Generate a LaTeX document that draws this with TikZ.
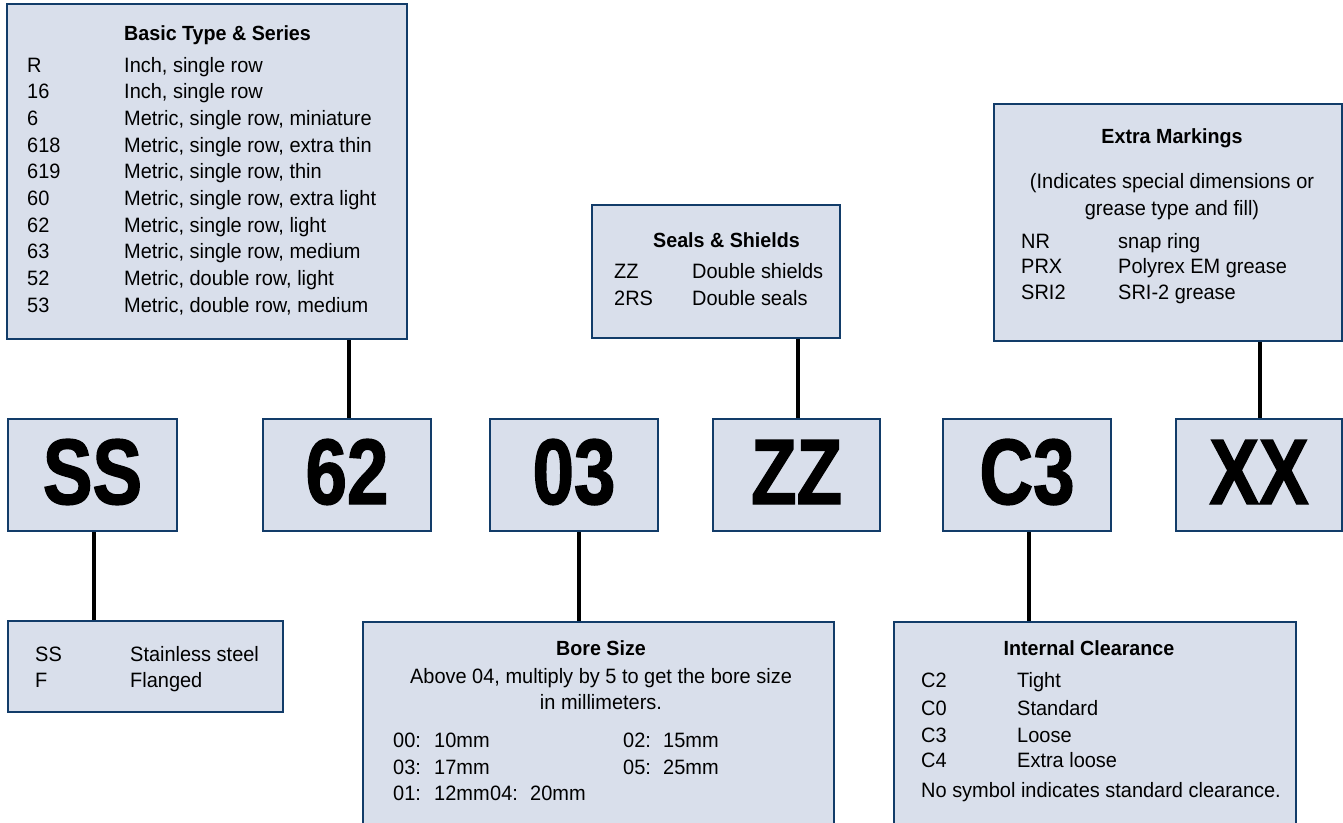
\documentclass[tikz,border=0pt]{standalone}
\usepackage{fontspec}
\setmainfont[FakeStretch=0.96]{Liberation Sans}
\newfontfamily\bigfont[FakeStretch=0.8,FakeBold=1.5]{Liberation Sans}
\definecolor{boxfill}{RGB}{217,223,235}
\definecolor{boxline}{RGB}{18,60,105}
\begin{document}
\begin{tikzpicture}[x=1pt,y=-1pt,
  box/.style={draw=boxline,fill=boxfill,line width=2.5pt,rectangle,inner sep=0pt,minimum height=#1},
  code/.style={draw=boxline,fill=boxfill,line width=2.5pt,rectangle,inner sep=0pt,minimum height=112pt},
  txt/.style={anchor=base west,inner sep=0pt,font=\fontsize{20.8}{24}\selectfont},
  ctxt/.style={anchor=base,inner sep=0pt,font=\fontsize{20.8}{24}\selectfont},
  ttl/.style={anchor=base west,inner sep=0pt,font=\fontsize{20.5}{24}\selectfont\bfseries},
  cttl/.style={anchor=base,inner sep=0pt,font=\fontsize{20.5}{24}\selectfont\bfseries},
  big/.style={anchor=base,inner sep=0pt,font=\bigfont\bfseries\fontsize{93}{100}\selectfont},
  conn/.style={line width=4pt,black}]
\useasboundingbox (0,0) rectangle (1343,822);
\clip (0,0) rectangle (1343,822);

% boxes
\node[box=335pt,minimum width=400pt] (basic) at (207,171.5) {};
\node[box=133pt,minimum width=248pt] (seals) at (716,271.5) {};
\node[box=237pt,minimum width=348pt] (extra) at (1168,222.5) {};
\node[code,minimum width=169pt] (cSS) at (92.5,475) {};
\node[code,minimum width=168pt] (c62) at (347,475) {};
\node[code,minimum width=168pt] (c03) at (574,475) {};
\node[code,minimum width=167pt] (cZZ) at (796.5,475) {};
\node[code,minimum width=168pt] (cC3) at (1027,475) {};
\node[code,minimum width=166pt] (cXX) at (1259,475) {};
\node[box=91pt,minimum width=275pt] (mat) at (145.5,666.5) {};
\node[box=213pt,minimum width=471pt] (bore) at (598.5,728.5) {};
\node[box=213pt,minimum width=402pt] (clear) at (1095,728.5) {};

% connectors
\draw[conn] ([xshift=2pt]c62.north) -- ([xshift=2pt]c62.north |- basic.south);
\draw[conn] ([xshift=1.5pt]cZZ.north) -- ([xshift=1.5pt]cZZ.north |- seals.south);
\draw[conn] ([xshift=1pt]cXX.north) -- ([xshift=1pt]cXX.north |- extra.south);
\draw[conn] ([xshift=1.5pt]cSS.south) -- ([xshift=1.5pt]cSS.south |- mat.north);
\draw[conn] ([xshift=5pt]c03.south) -- ([xshift=5pt]c03.south |- bore.north);
\draw[conn] ([xshift=2pt]cC3.south) -- ([xshift=2pt]cC3.south |- clear.north);

% big codes
\node[big] (tSS) at (92.5,504) {SS};
\node[big] (t62) at (347,504) {62};
\node[big] (t03) at (574,504) {03};
\node[big] (tZZ) at (796.5,504) {ZZ};
\node[big] (tC3) at (1027,504) {C3};
\node[big] (tXX) at (1259,504) {XX};

% Basic type & series
\node[ttl] (b0) at (124,40) {Basic Type \& Series};
\node[txt] (b1a) at (27,72) {R};    \node[txt] (b1b) at (124,72) {Inch, single row};
\node[txt] (b2a) at (27,98.7) {16};  \node[txt] (b2b) at (124,98.7) {Inch, single row};
\node[txt] (b3a) at (27,125.3) {6};  \node[txt] (b3b) at (124,125.3) {Metric, single row, miniature};
\node[txt] (b4a) at (27,152) {618};  \node[txt] (b4b) at (124,152) {Metric, single row, extra thin};
\node[txt] (b5a) at (27,178.7) {619}; \node[txt] (b5b) at (124,178.7) {Metric, single row, thin};
\node[txt] (b6a) at (27,205.3) {60}; \node[txt] (b6b) at (124,205.3) {Metric, single row, extra light};
\node[txt] (b7a) at (27,232) {62};   \node[txt] (b7b) at (124,232) {Metric, single row, light};
\node[txt] (b8a) at (27,258.7) {63}; \node[txt] (b8b) at (124,258.7) {Metric, single row, medium};
\node[txt] (b9a) at (27,285.3) {52}; \node[txt] (b9b) at (124,285.3) {Metric, double row, light};
\node[txt] (b10a) at (27,312) {53};  \node[txt] (b10b) at (124,312) {Metric, double row, medium};

% Seals & shields
\node[ttl] (s0) at (653,247) {Seals \& Shields};
\node[txt] (s1a) at (614,278) {ZZ};  \node[txt] (s1b) at (692,278) {Double shields};
\node[txt] (s2a) at (614,305) {2RS}; \node[txt] (s2b) at (692,305) {Double seals};

% Extra markings
\node[cttl] (e0) at (1172,143) {Extra Markings};
\node[ctxt] (e1) at (1172,188) {(Indicates special dimensions or};
\node[ctxt] (e2) at (1172,215) {grease type and fill)};
\node[txt] (e3a) at (1021,248) {NR};   \node[txt] (e3b) at (1118,248) {snap ring};
\node[txt] (e4a) at (1021,273) {PRX};  \node[txt] (e4b) at (1118,273) {Polyrex EM grease};
\node[txt] (e5a) at (1021,299) {SRI2}; \node[txt] (e5b) at (1118,299) {SRI-2 grease};

% Material
\node[txt] (m1a) at (35,661) {SS}; \node[txt] (m1b) at (130,661) {Stainless steel};
\node[txt] (m2a) at (35,687) {F};  \node[txt] (m2b) at (130,687) {Flanged};

% Bore size
\node[cttl] (o0) at (601,655) {Bore Size};
\node[ctxt] (o1) at (601,683) {Above 04, multiply by 5 to get the bore size};
\node[ctxt] (o2) at (601,709) {in millimeters.};
\node[txt] (o3a) at (393,747) {00:}; \node[txt] (o3b) at (434,747) {10mm};
\node[txt] (o3c) at (623,747) {02:}; \node[txt] (o3d) at (663,747) {15mm};
\node[txt] (o4a) at (393,774) {03:}; \node[txt] (o4b) at (434,774) {17mm};
\node[txt] (o4c) at (623,774) {05:}; \node[txt] (o4d) at (663,774) {25mm};
\node[txt] (o5a) at (393,800) {01:}; \node[txt] (o5b) at (434,800) {12mm};
\node[txt] (o5c) at (490,800) {04:}; \node[txt] (o5d) at (530,800) {20mm};

% Internal clearance
\node[cttl] (i0) at (1089,655) {Internal Clearance};
\node[txt] (i1a) at (921,687) {C2}; \node[txt] (i1b) at (1017,687) {Tight};
\node[txt] (i2a) at (921,715) {C0}; \node[txt] (i2b) at (1017,715) {Standard};
\node[txt] (i3a) at (921,742) {C3}; \node[txt] (i3b) at (1017,742) {Loose};
\node[txt] (i4a) at (921,767) {C4}; \node[txt] (i4b) at (1017,767) {Extra loose};
\node[txt] (i5) at (921,797) {No symbol indicates standard clearance.};
\end{tikzpicture}
\end{document}
